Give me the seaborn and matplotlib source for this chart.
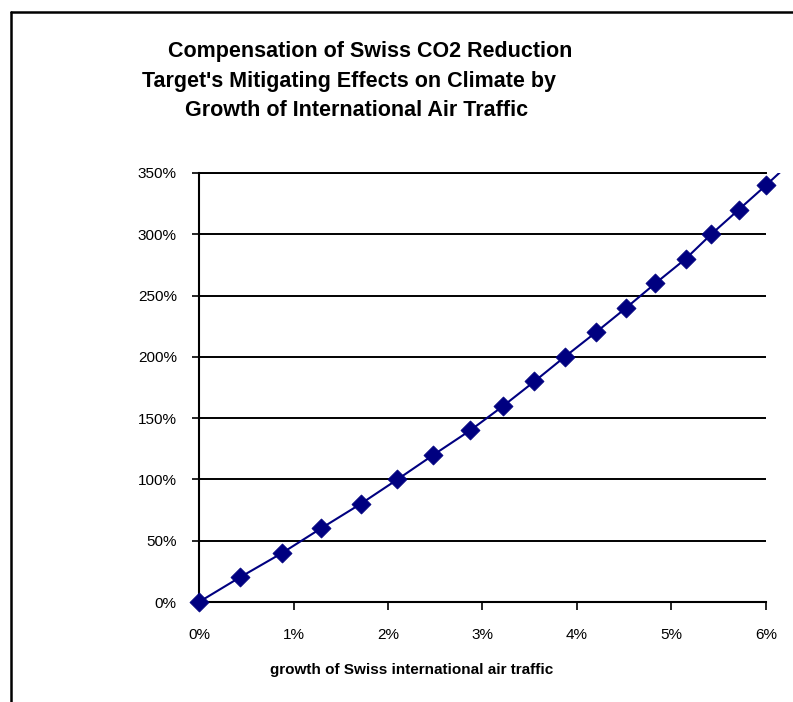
import matplotlib
matplotlib.use("Agg")
import matplotlib.pyplot as plt
from matplotlib.lines import Line2D
from matplotlib.patches import Rectangle
import seaborn as sns
import pandas as pd

# growth of Swiss international air traffic (% per year)
growth = [0.0, 0.43, 0.88, 1.29, 1.71, 2.10, 2.48, 2.87, 3.22, 3.55,
          3.87, 4.20, 4.52, 4.83, 5.15, 5.42, 5.71, 6.00, 6.28]
# compensation of the CO2 reduction target's mitigating effect (%)
compensation = [0, 20, 40, 60, 80, 100, 120, 140, 160, 180,
                200, 220, 240, 260, 280, 300, 320, 340, 360]
# number of points shown with a marker (the last one lies off the axes)
n_marked = 18

x_ticks = [0, 1, 2, 3, 4, 5, 6]
x_ticklabels = ["0%", "1%", "2%", "3%", "4%", "5%", "6%"]
y_ticks = [0, 50, 100, 150, 200, 250, 300, 350]
y_ticklabels = ["0%", "50%", "100%", "150%", "200%", "250%", "300%", "350%"]

title_lines = ["Compensation of Swiss CO2 Reduction",
               "Target's Mitigating Effects on Climate by",
               "Growth of International Air Traffic"]
x_label = "growth of Swiss international air traffic"

sns.set_style("white")
plt.rcParams["font.family"] = ["Liberation Sans", "DejaVu Sans"]

W, H = 793, 702
fig = plt.figure(figsize=(W / 100, H / 100), dpi=100)
fig.patch.set_facecolor("white")

# plot area in pixels: x 199..766, y 173..602
ax = fig.add_axes([199 / W, 1 - 602 / H, (766 - 199) / W, (602 - 173) / H])

df = pd.DataFrame({"growth": growth, "compensation": compensation})
navy = "#000080"

sns.lineplot(data=df, x="growth", y="compensation", ax=ax, color=navy,
             linewidth=1.5, sort=False, estimator=None)
sns.scatterplot(data=df.iloc[:n_marked], x="growth", y="compensation", ax=ax,
                marker="D", s=95, color=navy, edgecolor=navy, linewidth=0.5,
                zorder=5, clip_on=False)

ax.set_xlim(0, 6)
ax.set_ylim(0, 350)

# the curve runs past the right edge but stops at the top of the plot area
clip_rect = Rectangle((0, 0), 7, 350, transform=ax.transData)
for ln in ax.lines:
    ln.set_clip_path(clip_rect)

ax.set_yticks(y_ticks)
ax.set_yticklabels(y_ticklabels)
ax.set_xticks(x_ticks)
ax.set_xticklabels(x_ticklabels)
ax.set_xlabel("")
ax.set_ylabel("")

ax.yaxis.grid(True, color="black", linewidth=1.4)
ax.xaxis.grid(False)
ax.set_axisbelow(True)

ax.spines["right"].set_visible(False)
ax.spines["top"].set_visible(True)
ax.spines["top"].set_color("black")
ax.spines["top"].set_linewidth(1.4)
for side in ["left", "bottom"]:
    ax.spines[side].set_visible(True)
    ax.spines[side].set_color("black")
    ax.spines[side].set_linewidth(1.5)

ax.tick_params(axis="y", direction="out", length=5, width=1.2, color="black",
               labelsize=11, labelcolor="black", pad=11, left=True)
ax.tick_params(axis="x", direction="out", length=5.5, width=1.2, color="black",
               labelsize=11, labelcolor="black", pad=13, bottom=True)

# title, three centred lines (baselines in pixels)
title_pos = [(370, 57), (349, 87), (357, 116)]
for text, (px, py) in zip(title_lines, title_pos):
    fig.text(px / W, 1 - py / H, text, ha="center", va="baseline",
             fontsize=15.5, fontweight="bold", color="black")

fig.text(412 / W, 1 - 670 / H, x_label, ha="center", va="center",
         fontsize=11, fontweight="bold", color="black")

# chart-area border (left and top edges)
fig.add_artist(Line2D([11 / W, 11 / W], [0, 1 - 12 / H], transform=fig.transFigure,
                      color="black", linewidth=1.8))
fig.add_artist(Line2D([11 / W, 1], [1 - 12 / H, 1 - 12 / H], transform=fig.transFigure,
                      color="black", linewidth=1.8))

fig.savefig("out.png", dpi=100, facecolor="white")
